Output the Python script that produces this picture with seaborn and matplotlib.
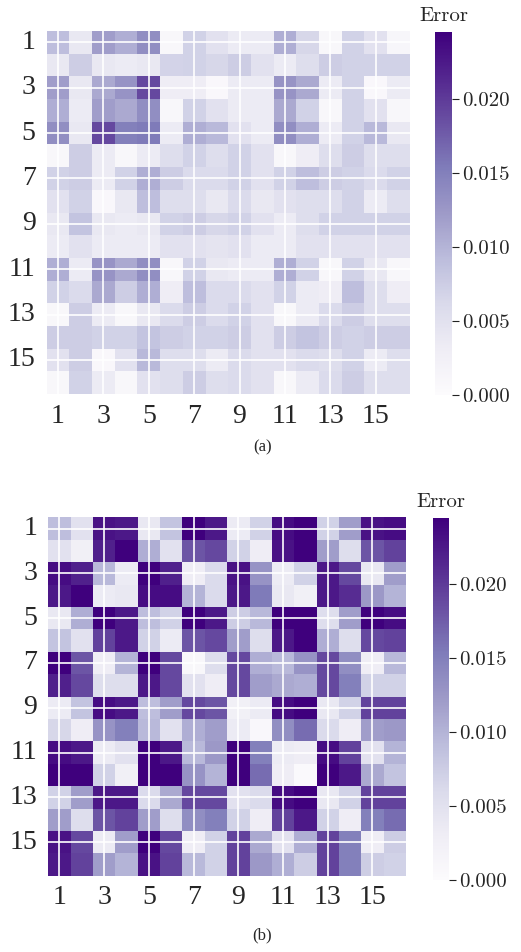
import numpy as np
import pandas as pd
import matplotlib
matplotlib.use("Agg")
import matplotlib.pyplot as plt
import seaborn as sns

# ---------------- data (values in units of 1e-3) ----------------
index_labels = [str(i) for i in range(1, 17)]
tick_labels = ["1", "3", "5", "7", "9", "11", "13", "15"]
cbar_ticks = [0.000, 0.005, 0.010, 0.015, 0.020]
cbar_ticklabels = ["0.000", "0.005", "0.010", "0.015", "0.020"]
panel_captions = ["(a)", "(b)"]
cbar_title = "Error"

error_a_milli = [
    [9, 4, 12, 10.5, 13.5, 1, 7, 5, 3.5, 3.5, 10.5, 6.5, 1, 7, 5, 1.2],
    [4, 7.5, 4, 3.5, 4, 6.8, 7, 6.5, 7.5, 5, 3.5, 5.5, 7.5, 7, 7, 7],
    [12, 4, 11, 13, 19, 3, 3, 0.8, 3.5, 3.5, 13, 11, 3.5, 7, 0.8, 3.5],
    [10.5, 3.5, 12, 11, 13.5, 1, 7, 5, 3.5, 3.5, 11, 7, 1, 7, 5, 1],
    [13.5, 4, 19, 15, 15.5, 3.5, 10.5, 9.5, 5, 3.5, 13.5, 10.5, 3.5, 7, 9.5, 4],
    [1, 7.5, 3.5, 1, 3.5, 5.5, 7, 5.5, 7, 5, 1, 3, 5.5, 7.5, 5.5, 5.5],
    [7, 7.5, 3.5, 7, 10.5, 7.5, 6, 6, 7, 5, 7, 9, 7.5, 7, 6, 7],
    [5, 7, 0.8, 4, 9, 5.5, 5.5, 4, 6, 4, 5, 5.5, 5.5, 7, 3.5, 5.5],
    [4, 8.5, 4, 3.5, 4, 7, 7.5, 6.5, 7, 5, 3.5, 5.5, 7, 7, 7, 7],
    [3.5, 5, 3.5, 3.5, 3.5, 5, 5, 4.5, 5, 3.5, 3.5, 5, 5, 5, 5, 5],
    [10.5, 3.5, 13, 11, 13.5, 1, 7, 4, 3.5, 3.5, 10.5, 7, 1, 7, 4, 1],
    [7, 6, 11, 7.5, 10.5, 3, 9, 6, 6, 5, 7, 3.5, 3, 9, 5.5, 3],
    [1, 7.5, 3.5, 1, 4, 6, 7.5, 6, 7, 5, 1, 3.5, 6, 7.5, 5.5, 5.5],
    [7.5, 7.5, 7, 7, 8.5, 7.5, 7, 7, 7.5, 5, 7.5, 8.5, 7.5, 7, 7.5, 7.5],
    [5, 7.5, 0.8, 5, 9.5, 5.5, 5.5, 3.5, 6, 5, 5, 6, 5.5, 7, 3.5, 5.5],
    [1, 7, 3.5, 1, 5, 5.5, 7.5, 5.5, 6, 5, 1, 3.5, 6, 7.5, 5.5, 5.5],
]

error_b_milli = [
    [9, 5, 23, 22.5, 4, 8.5, 24.5, 22.5, 3.5, 7, 23.5, 24.5, 7, 12, 23, 23.5],
    [5, 2.5, 22, 24.5, 10.5, 5, 18, 19, 7, 3, 23, 24.5, 12, 5.5, 18, 19.5],
    [23.5, 22, 9.5, 3.5, 24.5, 22, 3, 6, 23, 13, 3.5, 7, 22.5, 19, 4, 12],
    [22.5, 24.5, 3.5, 4, 23.5, 23.5, 10, 6, 22.5, 15.5, 4, 2.5, 22.5, 21, 12.5, 10],
    [4, 10.5, 24.5, 22.5, 9, 7, 24.5, 22.5, 7.5, 9.5, 24.5, 24.5, 5.5, 12, 24.5, 23.5],
    [8.5, 5, 19.5, 22.5, 7, 3.5, 18, 19, 12, 5.5, 22.5, 24.5, 10.5, 5.5, 19, 19.5],
    [24.5, 18, 3, 10, 24.5, 19, 1, 5.5, 19, 10.5, 9.5, 13, 19, 13.5, 3, 9.5],
    [22, 19, 5.5, 5.5, 22.5, 19, 5, 3, 19, 12, 11, 10.5, 19, 15, 7, 7],
    [3.5, 8.5, 23.5, 22.5, 9, 12, 19, 18, 2.5, 3.5, 23.5, 24.5, 4, 7, 19.5, 19.5],
    [6.5, 3, 13, 15, 9.5, 5, 10.5, 12, 3.5, 0.8, 13.5, 16.5, 6, 3, 12, 12.5],
    [23.5, 22.5, 3.5, 5, 24.5, 22.5, 9.5, 12.5, 24.5, 15, 3.5, 3, 23.5, 19.5, 5, 10],
    [24.5, 24.5, 7, 2.5, 24.5, 24.5, 13, 10, 24.5, 16.5, 3, 0.5, 24.5, 22.5, 11, 8.5],
    [7, 12, 22.5, 22.5, 6, 11, 19, 19, 5, 6, 23.5, 24.5, 4, 7, 19.5, 19.5],
    [12, 5.5, 18, 19.5, 12, 5.5, 13.5, 15, 7, 3, 19.5, 22.5, 7, 3, 15, 16.5],
    [23, 19, 3.5, 12, 24.5, 19, 3, 7, 19.5, 11, 5, 10.5, 19.5, 15, 3, 7.5],
    [22.5, 19.5, 12, 10, 23, 19.5, 9.5, 7, 19.5, 12.5, 10.5, 7.5, 19.5, 15, 7.5, 7],
]

VMIN, VMAX = 0.0, 0.0245

# ---------------- style ----------------
sns.set_theme(style="white")
plt.rcParams["font.family"] = ["Liberation Serif", "DejaVu Serif"]
CM = ["cmr10", "Liberation Serif"]

W, H = 521, 952
fig = plt.figure(figsize=(W / 100, H / 100), dpi=100)


def rect(l, t, r, b):
    return [l / W, 1 - b / H, (r - l) / W, (b - t) / H]


panels = [
    dict(data=error_a_milli, heat=(46.7, 31, 409.7, 394), cbar=(435, 32, 452, 395),
         cap_xy=(263, 447)),
    dict(data=error_b_milli, heat=(48.3, 517.3, 406, 875.7), cbar=(433, 518, 449, 880),
         cap_xy=(262, 935)),
]

for p, cap in zip(panels, panel_captions):
    ax = fig.add_axes(rect(*p["heat"]))
    cax = fig.add_axes(rect(*p["cbar"]))
    df = pd.DataFrame(np.array(p["data"]) * 1e-3, index=index_labels, columns=index_labels)
    sns.heatmap(df, ax=ax, cbar_ax=cax, cmap="Purples", vmin=VMIN, vmax=VMAX,
                linewidths=0)
    pos = np.arange(0, 16, 2) + 0.5
    ax.set_xticks(pos)
    ax.set_yticks(pos)
    ax.set_xticklabels(tick_labels, rotation=0, fontsize=20)
    ax.set_yticklabels(tick_labels, rotation=0, fontsize=20)
    ax.tick_params(axis="x", length=0, pad=7)
    ax.tick_params(axis="y", length=0, pad=8)
    for v in pos:
        ax.axvline(v, color="white", lw=1.2, zorder=3)
        ax.axhline(v, color="white", lw=1.2, zorder=3)
    ax.set_xlabel("")
    ax.set_ylabel("")

    cbar = ax.collections[0].colorbar
    cbar.outline.set_visible(False)
    cbar.set_ticks(cbar_ticks)
    cbar.set_ticklabels(cbar_ticklabels)
    cax.tick_params(length=5, width=0.8, color="#222222", pad=2, right=True)
    for lab in cax.get_yticklabels():
        lab.set_fontfamily(CM)
        lab.set_fontsize(15)
    cax.set_title(cbar_title, fontsize=15, family=CM, pad=8)

    fig.text(p["cap_xy"][0] / W, 1 - p["cap_xy"][1] / H, cap,
             ha="center", va="center", fontsize=12)

fig.savefig("out.png", dpi=100)
